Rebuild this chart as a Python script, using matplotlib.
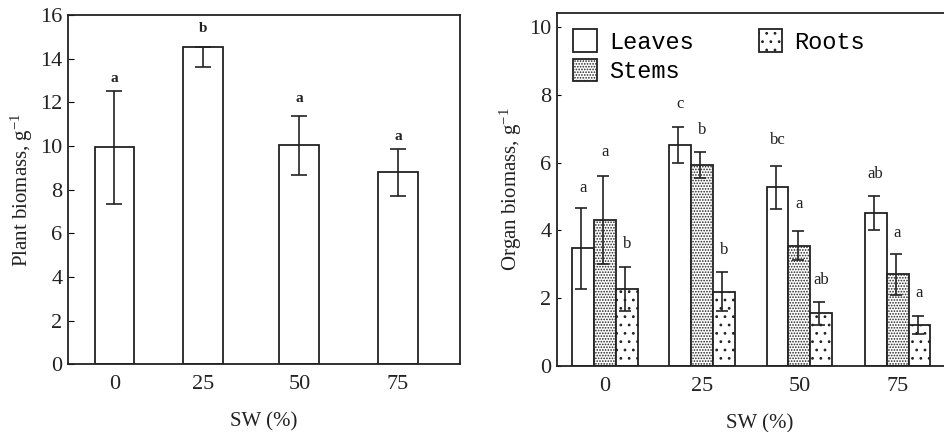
import numpy as np
import matplotlib.pyplot as plt

# data
sw_labels = ["0", "25", "50", "75"]

plant_mean = [9.95, 14.55, 10.05, 8.79]
plant_err_lo = [2.6, 0.92, 1.38, 1.06]
plant_err_hi = [2.57, 0.0, 1.34, 1.06]
plant_letters = ["a", "b", "a", "a"]
plant_letter_y = [13.1, 15.4, 12.2, 10.45]

leaves_mean = [3.47, 6.52, 5.27, 4.52]
leaves_err = [1.2, 0.53, 0.63, 0.5]
stems_mean = [4.31, 5.93, 3.55, 2.70]
stems_err = [1.3, 0.38, 0.42, 0.6]
roots_mean = [2.27, 2.19, 1.55, 1.20]
roots_err = [0.66, 0.58, 0.33, 0.27]

leaves_letters = ["a", "c", "bc", "ab"]
stems_letters = ["a", "b", "a", "a"]
roots_letters = ["b", "b", "ab", "a"]
leaves_letter_y = [5.24, 7.73, 6.67, 5.68]
stems_letter_y = [6.31, 6.95, 4.78, 3.91]
roots_letter_y = [3.59, 3.42, 2.55, 2.14]

serif = "Liberation Serif"
mono = "Liberation Mono"
ink = "#222222"
plt.rcParams["hatch.linewidth"] = 0.8
plt.rcParams["hatch.color"] = "#333333"
plt.rcParams["mathtext.fontset"] = "custom"
plt.rcParams["mathtext.rm"] = serif
plt.rcParams["mathtext.it"] = serif + ":italic"

fig = plt.figure(figsize=(9.44, 4.32), dpi=100)

# ---- left panel: whole plant biomass
ax1 = fig.add_axes([0.072, 0.157, 0.415, 0.808])
x = np.array([0.0, 0.93, 1.95, 2.99])
ax1.bar(x, plant_mean, width=0.42, color="white", edgecolor=ink, linewidth=1.3)
ax1.errorbar(x, plant_mean, yerr=[plant_err_lo, plant_err_hi], fmt="none",
             ecolor=ink, elinewidth=1.2, capsize=6, capthick=1.2)
for xi, lab, ly in zip(x, plant_letters, plant_letter_y):
    ax1.text(xi, ly, lab, ha="center", va="center", fontsize=11,
             fontweight="bold", family=serif, color=ink)
ax1.set_xlim(-0.49, 3.64)
ax1.set_ylim(0, 16)
ax1.set_yticks(range(0, 17, 2))
ax1.set_xticks(x)
ax1.set_xticklabels(sw_labels)
ax1.tick_params(axis="y", direction="in", length=4, labelsize=16, pad=4)
ax1.tick_params(axis="x", length=0, labelsize=16, pad=8)
for lab in ax1.get_xticklabels() + ax1.get_yticklabels():
    lab.set_family(serif)
    lab.set_color(ink)
ax1.set_ylabel(r"Plant biomass, g$^{\mathrm{-1}}$", fontsize=15, family=serif, color=ink)
ax1.set_xlabel("SW (%)", fontsize=15, family=serif, color=ink, labelpad=13)
for sp in ax1.spines.values():
    sp.set_linewidth(1.3)
    sp.set_color(ink)

# ---- right panel: organ biomass
ax2 = fig.add_axes([0.590, 0.153, 0.429, 0.817])
g = np.array([0.0, 1.0, 1.995, 3.0])
w = 0.225
series = [
    ("Leaves", leaves_mean, leaves_err, "", leaves_letters, leaves_letter_y, -w),
    ("Stems", stems_mean, stems_err, "......", stems_letters, stems_letter_y, 0.0),
    ("Roots", roots_mean, roots_err, "..", roots_letters, roots_letter_y, w),
]
for name, mean, err, hatch, letters, ly, off in series:
    ax2.bar(g + off, mean, width=w, color="white", edgecolor=ink,
            linewidth=1.3, hatch=hatch, label=name)
    ax2.errorbar(g + off - 0.02, mean, yerr=err, fmt="none", ecolor=ink,
                 elinewidth=1.2, capsize=4, capthick=1.2)
    for xi, lab, yy in zip(g + off, letters, ly):
        ax2.text(xi, yy, lab, ha="center", va="center", fontsize=12,
                 family=serif, color=ink)
ax2.set_xlim(-0.49, 3.66)
ax2.set_ylim(0, 10.42)
ax2.set_yticks(range(0, 11, 2))
ax2.set_xticks(g)
ax2.set_xticklabels(sw_labels)
ax2.tick_params(axis="y", direction="in", length=3, labelsize=16, pad=4)
ax2.tick_params(axis="x", length=0, labelsize=16, pad=8)
for lab in ax2.get_xticklabels() + ax2.get_yticklabels():
    lab.set_family(serif)
    lab.set_color(ink)
ax2.set_ylabel(r"Organ biomass, g$^{\mathrm{-1}}$", fontsize=15, family=serif, color=ink)
ax2.set_xlabel("SW (%)", fontsize=15, family=serif, color=ink, labelpad=13)
for sp in ax2.spines.values():
    sp.set_linewidth(1.3)
    sp.set_color(ink)
ax2.legend(loc="upper left", ncol=2, frameon=False, prop={"family": mono, "size": 17},
           handlelength=1.0, handleheight=1.1, handletextpad=0.5, columnspacing=2.75,
           labelspacing=0.2, borderaxespad=0.3, bbox_to_anchor=(0.0, 1.0))

fig.savefig("out.png", dpi=100)
